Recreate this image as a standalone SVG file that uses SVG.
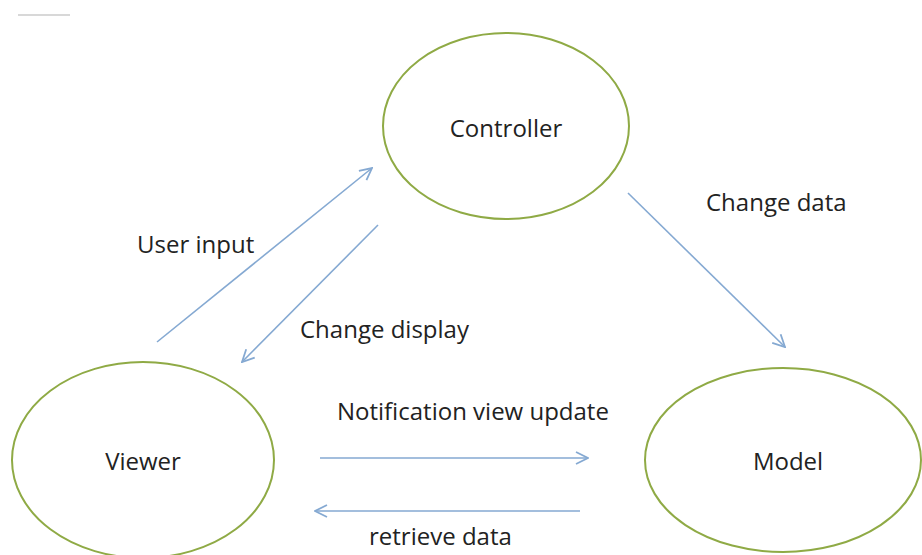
<svg xmlns="http://www.w3.org/2000/svg" width="922" height="555" viewBox="0 0 922 555">
<defs>
<style>
.node{fill:#ffffff;stroke:#8faa45;stroke-width:2}
.lbl{font-family:"Open Sans","Liberation Sans",sans-serif;font-size:24px;fill:#222222}
.conn{stroke:#85a9d2;stroke-width:1.6;fill:none;marker-end:url(#arr)}
</style>
<marker id="arr" viewBox="0 0 14 14" refX="13" refY="7" markerWidth="14" markerHeight="14" markerUnits="userSpaceOnUse" orient="auto">
<path d="M1,1 L13,7 L1,13" fill="none" stroke="#85a9d2" stroke-width="1.8"/>
</marker>
</defs>
<rect width="922" height="555" fill="#ffffff"/>
<line x1="18" y1="15" x2="70" y2="15" stroke="#d8d8d8" stroke-width="2"/>
<g id="controller">
<ellipse class="node" cx="506" cy="126" rx="123" ry="93"/>
<text class="lbl" x="506" y="137" text-anchor="middle">Controller</text>
</g>
<g id="viewer">
<ellipse class="node" cx="143" cy="460" rx="131" ry="98"/>
<text class="lbl" x="143" y="470" text-anchor="middle">Viewer</text>
</g>
<g id="model">
<ellipse class="node" cx="783" cy="460" rx="138" ry="92"/>
<text class="lbl" x="788" y="470" text-anchor="middle">Model</text>
</g>
<g id="connectors">
<line class="conn" x1="157" y1="342" x2="372" y2="168"/>
<line class="conn" x1="378" y1="225" x2="242" y2="362"/>
<line class="conn" x1="628" y1="193" x2="785" y2="347"/>
<line class="conn" x1="320" y1="458" x2="588" y2="458"/>
<line class="conn" x1="580" y1="511" x2="315" y2="511"/>
<text class="lbl" x="137" y="253">User input</text>
<text class="lbl" x="300" y="338">Change display</text>
<text class="lbl" x="706" y="211">Change data</text>
<text class="lbl" x="337" y="420">Notification view update</text>
<text class="lbl" x="369" y="545">retrieve data</text>
</g>
</svg>
